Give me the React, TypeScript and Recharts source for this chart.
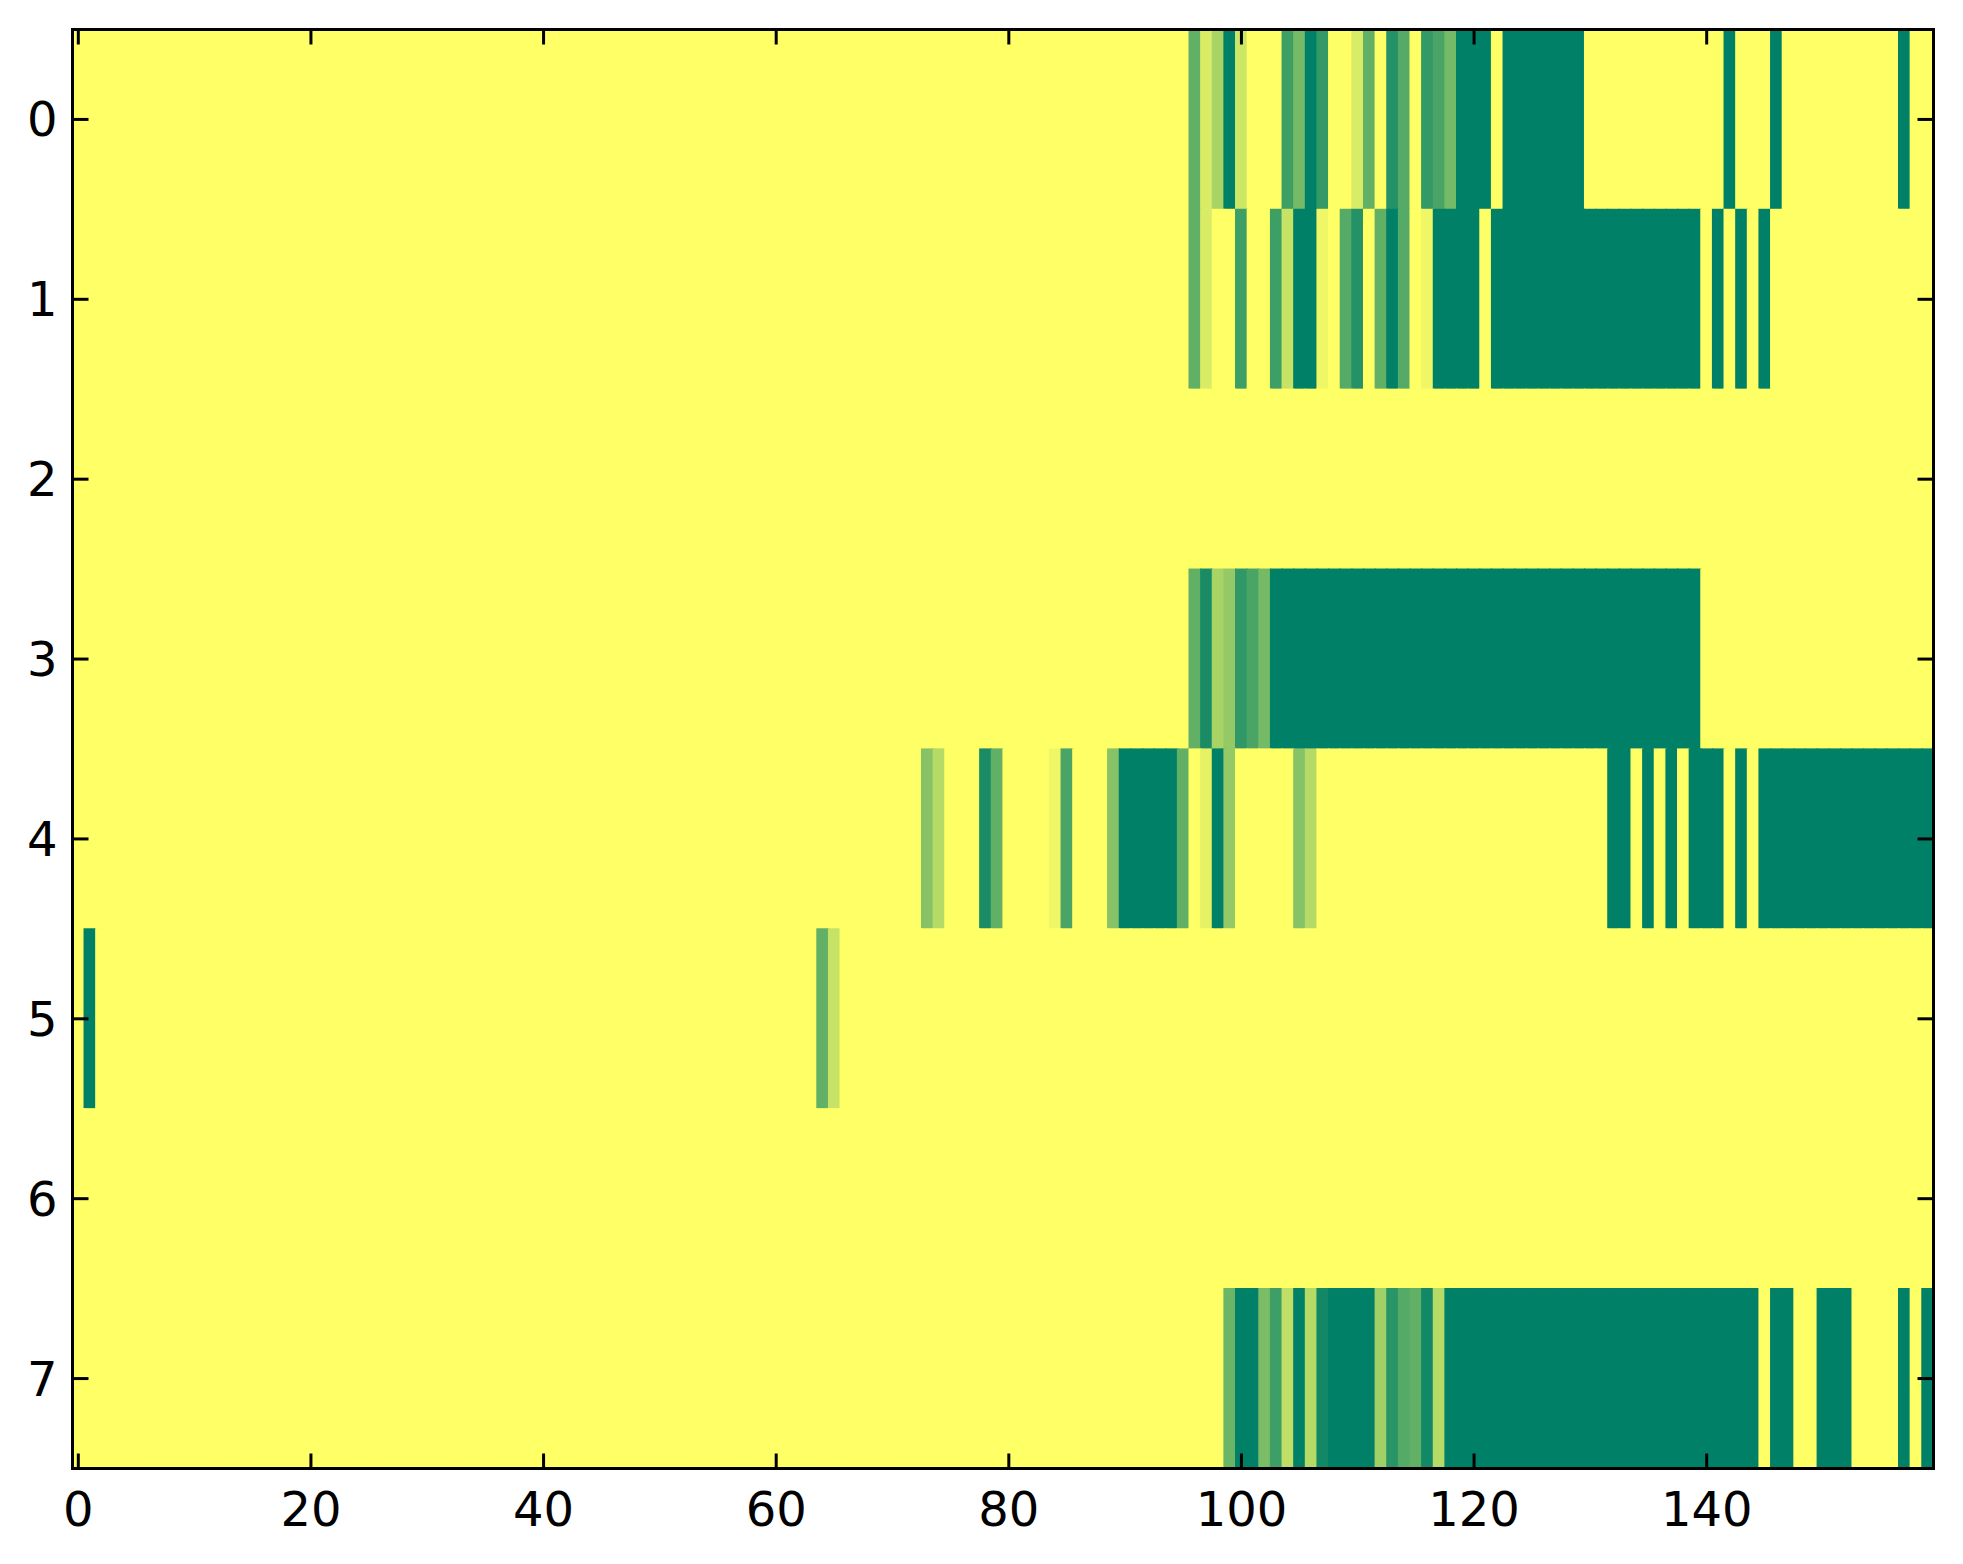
import { ScatterChart, Scatter, XAxis, YAxis, ReferenceArea } from "recharts";

// heatmap rows, one value per column (0 = yellow, 1 = dark green)
const row0 = [
  0, 0, 0, 0, 0, 0, 0, 0, 0, 0, 0, 0, 0, 0, 0, 0, 0, 0, 0, 0,
  0, 0, 0, 0, 0, 0, 0, 0, 0, 0, 0, 0, 0, 0, 0, 0, 0, 0, 0, 0,
  0, 0, 0, 0, 0, 0, 0, 0, 0, 0, 0, 0, 0, 0, 0, 0, 0, 0, 0, 0,
  0, 0, 0, 0, 0, 0, 0, 0, 0, 0, 0, 0, 0, 0, 0, 0, 0, 0, 0, 0,
  0, 0, 0, 0, 0, 0, 0, 0, 0, 0, 0, 0, 0, 0, 0, 0, 0.62, 0.15, 0.34, 1,
  0.2, 0, 0, 0, 0.76, 0.54, 1, 0.8, 0, 0, 0.15, 0.62, 0, 0.86, 0.67, 0, 0.8, 0.71, 0.54, 1,
  1, 1, 0, 1, 1, 1, 1, 1, 1, 1, 0, 0, 0, 0, 0, 0, 0, 0, 0, 0,
  0, 0, 1, 0, 0, 0, 1, 0, 0, 0, 0, 0, 0, 0, 0, 0, 0, 1, 0, 0,
];

const row1 = [
  0, 0, 0, 0, 0, 0, 0, 0, 0, 0, 0, 0, 0, 0, 0, 0, 0, 0, 0, 0,
  0, 0, 0, 0, 0, 0, 0, 0, 0, 0, 0, 0, 0, 0, 0, 0, 0, 0, 0, 0,
  0, 0, 0, 0, 0, 0, 0, 0, 0, 0, 0, 0, 0, 0, 0, 0, 0, 0, 0, 0,
  0, 0, 0, 0, 0, 0, 0, 0, 0, 0, 0, 0, 0, 0, 0, 0, 0, 0, 0, 0,
  0, 0, 0, 0, 0, 0, 0, 0, 0, 0, 0, 0, 0, 0, 0, 0, 0.62, 0.15, 0, 0,
  0.76, 0, 0, 0.76, 0.22, 1, 1, 0.06, 0, 0.67, 0.86, 0, 0.62, 1, 0.67, 0, 0.06, 1, 1, 1,
  1, 0, 1, 1, 1, 1, 1, 1, 1, 1, 1, 1, 1, 1, 1, 1, 1, 1, 1, 1,
  0, 1, 0, 1, 0, 1, 0, 0, 0, 0, 0, 0, 0, 0, 0, 0, 0, 0, 0, 0,
];

const row2 = [
  0, 0, 0, 0, 0, 0, 0, 0, 0, 0, 0, 0, 0, 0, 0, 0, 0, 0, 0, 0,
  0, 0, 0, 0, 0, 0, 0, 0, 0, 0, 0, 0, 0, 0, 0, 0, 0, 0, 0, 0,
  0, 0, 0, 0, 0, 0, 0, 0, 0, 0, 0, 0, 0, 0, 0, 0, 0, 0, 0, 0,
  0, 0, 0, 0, 0, 0, 0, 0, 0, 0, 0, 0, 0, 0, 0, 0, 0, 0, 0, 0,
  0, 0, 0, 0, 0, 0, 0, 0, 0, 0, 0, 0, 0, 0, 0, 0, 0, 0, 0, 0,
  0, 0, 0, 0, 0, 0, 0, 0, 0, 0, 0, 0, 0, 0, 0, 0, 0, 0, 0, 0,
  0, 0, 0, 0, 0, 0, 0, 0, 0, 0, 0, 0, 0, 0, 0, 0, 0, 0, 0, 0,
  0, 0, 0, 0, 0, 0, 0, 0, 0, 0, 0, 0, 0, 0, 0, 0, 0, 0, 0, 0,
];

const row3 = [
  0, 0, 0, 0, 0, 0, 0, 0, 0, 0, 0, 0, 0, 0, 0, 0, 0, 0, 0, 0,
  0, 0, 0, 0, 0, 0, 0, 0, 0, 0, 0, 0, 0, 0, 0, 0, 0, 0, 0, 0,
  0, 0, 0, 0, 0, 0, 0, 0, 0, 0, 0, 0, 0, 0, 0, 0, 0, 0, 0, 0,
  0, 0, 0, 0, 0, 0, 0, 0, 0, 0, 0, 0, 0, 0, 0, 0, 0, 0, 0, 0,
  0, 0, 0, 0, 0, 0, 0, 0, 0, 0, 0, 0, 0, 0, 0, 0, 0.62, 0.9, 0.34, 0.42,
  0.81, 0.71, 0.54, 1, 1, 1, 1, 1, 1, 1, 1, 1, 1, 1, 1, 1, 1, 1, 1, 1,
  1, 1, 1, 1, 1, 1, 1, 1, 1, 1, 1, 1, 1, 1, 1, 1, 1, 1, 1, 1,
  0, 0, 0, 0, 0, 0, 0, 0, 0, 0, 0, 0, 0, 0, 0, 0, 0, 0, 0, 0,
];

const row4 = [
  0, 0, 0, 0, 0, 0, 0, 0, 0, 0, 0, 0, 0, 0, 0, 0, 0, 0, 0, 0,
  0, 0, 0, 0, 0, 0, 0, 0, 0, 0, 0, 0, 0, 0, 0, 0, 0, 0, 0, 0,
  0, 0, 0, 0, 0, 0, 0, 0, 0, 0, 0, 0, 0, 0, 0, 0, 0, 0, 0, 0,
  0, 0, 0, 0, 0, 0, 0, 0, 0, 0, 0, 0, 0, 0.47, 0.29, 0, 0, 0, 0.9, 0.62,
  0, 0, 0, 0, 0.06, 0.71, 0, 0, 0, 0.47, 1, 1, 1, 1, 1, 0.62, 0, 0.1, 1, 0.42,
  0, 0, 0, 0, 0, 0.47, 0.29, 0, 0, 0, 0, 0, 0, 0, 0, 0, 0, 0, 0, 0,
  0, 0, 0, 0, 0, 0, 0, 0, 0, 0, 0, 0, 1, 1, 0, 1, 0, 1, 0, 1,
  1, 1, 0, 1, 0, 1, 1, 1, 1, 1, 1, 1, 1, 1, 1, 1, 1, 1, 1, 1,
];

const row5 = [
  0, 1, 0, 0, 0, 0, 0, 0, 0, 0, 0, 0, 0, 0, 0, 0, 0, 0, 0, 0,
  0, 0, 0, 0, 0, 0, 0, 0, 0, 0, 0, 0, 0, 0, 0, 0, 0, 0, 0, 0,
  0, 0, 0, 0, 0, 0, 0, 0, 0, 0, 0, 0, 0, 0, 0, 0, 0, 0, 0, 0,
  0, 0, 0, 0, 0.62, 0.22, 0, 0, 0, 0, 0, 0, 0, 0, 0, 0, 0, 0, 0, 0,
  0, 0, 0, 0, 0, 0, 0, 0, 0, 0, 0, 0, 0, 0, 0, 0, 0, 0, 0, 0,
  0, 0, 0, 0, 0, 0, 0, 0, 0, 0, 0, 0, 0, 0, 0, 0, 0, 0, 0, 0,
  0, 0, 0, 0, 0, 0, 0, 0, 0, 0, 0, 0, 0, 0, 0, 0, 0, 0, 0, 0,
  0, 0, 0, 0, 0, 0, 0, 0, 0, 0, 0, 0, 0, 0, 0, 0, 0, 0, 0, 0,
];

const row6 = [
  0, 0, 0, 0, 0, 0, 0, 0, 0, 0, 0, 0, 0, 0, 0, 0, 0, 0, 0, 0,
  0, 0, 0, 0, 0, 0, 0, 0, 0, 0, 0, 0, 0, 0, 0, 0, 0, 0, 0, 0,
  0, 0, 0, 0, 0, 0, 0, 0, 0, 0, 0, 0, 0, 0, 0, 0, 0, 0, 0, 0,
  0, 0, 0, 0, 0, 0, 0, 0, 0, 0, 0, 0, 0, 0, 0, 0, 0, 0, 0, 0,
  0, 0, 0, 0, 0, 0, 0, 0, 0, 0, 0, 0, 0, 0, 0, 0, 0, 0, 0, 0,
  0, 0, 0, 0, 0, 0, 0, 0, 0, 0, 0, 0, 0, 0, 0, 0, 0, 0, 0, 0,
  0, 0, 0, 0, 0, 0, 0, 0, 0, 0, 0, 0, 0, 0, 0, 0, 0, 0, 0, 0,
  0, 0, 0, 0, 0, 0, 0, 0, 0, 0, 0, 0, 0, 0, 0, 0, 0, 0, 0, 0,
];

const row7 = [
  0, 0, 0, 0, 0, 0, 0, 0, 0, 0, 0, 0, 0, 0, 0, 0, 0, 0, 0, 0,
  0, 0, 0, 0, 0, 0, 0, 0, 0, 0, 0, 0, 0, 0, 0, 0, 0, 0, 0, 0,
  0, 0, 0, 0, 0, 0, 0, 0, 0, 0, 0, 0, 0, 0, 0, 0, 0, 0, 0, 0,
  0, 0, 0, 0, 0, 0, 0, 0, 0, 0, 0, 0, 0, 0, 0, 0, 0, 0, 0, 0,
  0, 0, 0, 0, 0, 0, 0, 0, 0, 0, 0, 0, 0, 0, 0, 0, 0, 0, 0, 0.58,
  1, 1, 0.52, 0.76, 0.25, 1, 0.29, 0.93, 1, 1, 1, 1, 0.37, 0.84, 0.67, 0.62, 0.93, 0.29, 1, 1,
  1, 1, 1, 1, 1, 1, 1, 1, 1, 1, 1, 1, 1, 1, 1, 1, 1, 1, 1, 1,
  1, 1, 1, 1, 1, 0, 1, 1, 0, 0, 1, 1, 1, 0, 0, 0, 0, 1, 0, 1,
];

const rows = [row0, row1, row2, row3, row4, row5, row6, row7];
const xTicks = [0, 20, 40, 60, 80, 100, 120, 140];
const yTicks = [0, 1, 2, 3, 4, 5, 6, 7];

const cells = rows.flatMap((row, r) => row.map((v, c) => ({ x: c, y: r, v })));

const W = 1947;
const H = 1548;
const LEFT = 64.5;
const TOP = 21.5;
const RIGHT = 21.5;
const BOTTOM = 87.5;
const CW = (W - LEFT - RIGHT) / 160;
const CH = (H - TOP - BOTTOM) / 8;
const FONT = "DejaVu Sans";
// keep cells off the frame so it stays fully visible
const IN_L = LEFT + 1.5;
const IN_R = W - RIGHT - 1.5;
const IN_T = TOP + 1.5;
const IN_B = H - BOTTOM - 1.5;

// matplotlib summer_r
function summerR(v: number) {
  const t = 1 - v;
  const r = Math.round(255 * t);
  const g = Math.round(255 * (0.5 + t / 2));
  return `rgb(${r},${g},102)`;
}

function HeatCell(props: any) {
  const { cx, cy, payload } = props;
  const col = summerR(payload.v);
  const x0 = Math.max(IN_L, cx - CW / 2 - 0.6);
  const x1 = Math.min(IN_R, cx + CW / 2 + 0.6);
  const y0 = Math.max(IN_T, cy - CH / 2 - 0.6);
  const y1 = Math.min(IN_B, cy + CH / 2 + 0.6);
  return <rect x={x0} y={y0} width={x1 - x0} height={y1 - y0} fill={col} />;
}

const BottomTick = ({ x, y, payload }: any) => (
  <g>
    <line x1={x} x2={x} y1={y} y2={y - 15} stroke="#000" strokeWidth={3} />
    <text x={x} y={y + 57} textAnchor="middle" fontSize={48} fontFamily={FONT} fill="#000">
      {payload.value}
    </text>
  </g>
);

const TopTick = ({ x, y }: any) => (
  <line x1={x} x2={x} y1={y} y2={y + 15} stroke="#000" strokeWidth={3} />
);

const LeftTick = ({ x, y, payload }: any) => (
  <g>
    <line x1={x} x2={x + 16} y1={y} y2={y} stroke="#000" strokeWidth={3} />
    <text x={x - 15} y={y + 17} textAnchor="end" fontSize={48} fontFamily={FONT} fill="#000">
      {payload.value}
    </text>
  </g>
);

const RightTick = ({ x, y }: any) => (
  <line x1={x} x2={x - 16} y1={y} y2={y} stroke="#000" strokeWidth={3} />
);

const axisCommon = {
  tickSize: 0,
  tickMargin: 0,
  tickLine: false,
  axisLine: false,
  allowDataOverflow: true,
  interval: 0 as const,
};

export default function App() {
  return (
    <ScatterChart width={W} height={H} margin={{ top: 0, right: 0, left: 0, bottom: 0 }}>
      <XAxis
        {...axisCommon}
        type="number"
        dataKey="x"
        xAxisId={0}
        orientation="bottom"
        domain={[-0.5, 159.5]}
        ticks={xTicks}
        height={BOTTOM}
        tick={<BottomTick />}
      />
      <XAxis
        {...axisCommon}
        type="number"
        dataKey="x"
        xAxisId="top"
        orientation="top"
        domain={[-0.5, 159.5]}
        ticks={xTicks}
        height={TOP}
        tick={<TopTick />}
      />
      <YAxis
        {...axisCommon}
        type="number"
        dataKey="y"
        yAxisId={0}
        orientation="left"
        domain={[-0.5, 7.5]}
        ticks={yTicks}
        reversed
        width={LEFT}
        tick={<LeftTick />}
      />
      <YAxis
        {...axisCommon}
        type="number"
        dataKey="y"
        yAxisId="right"
        orientation="right"
        domain={[-0.5, 7.5]}
        ticks={yTicks}
        reversed
        width={RIGHT}
        tick={<RightTick />}
      />
      <Scatter
        data={cells}
        xAxisId={0}
        yAxisId={0}
        shape={<HeatCell />}
        isAnimationActive={false}
      />
      <ReferenceArea
        xAxisId={0}
        yAxisId={0}
        x1={-0.5}
        x2={159.5}
        y1={-0.5}
        y2={7.5}
        fill="none"
        fillOpacity={0}
        stroke="#000"
        strokeWidth={3}
        strokeOpacity={1}
        ifOverflow="visible"
      />
    </ScatterChart>
  );
}
